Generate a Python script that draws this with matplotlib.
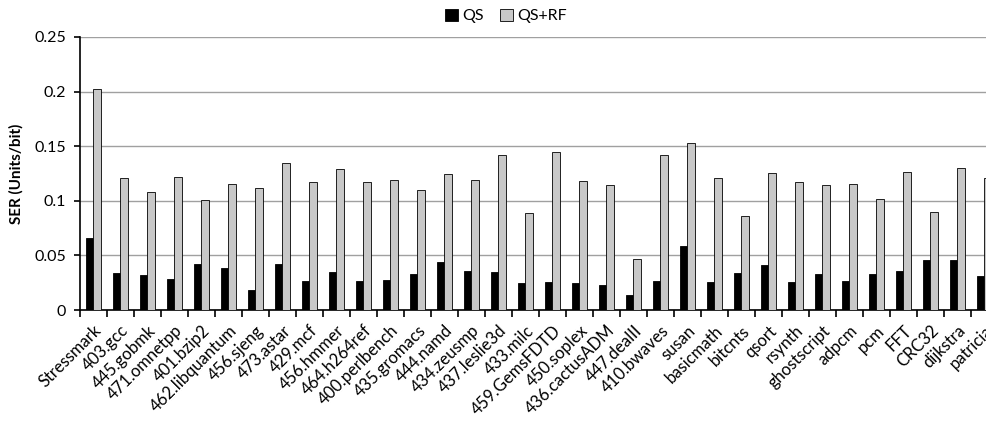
import matplotlib
matplotlib.use("Agg")
import matplotlib.pyplot as plt
import numpy as np

plt.rcParams['font.family'] = ['Lato', 'DejaVu Sans']

# ベンチマーク名
benchmarks = ['Stressmark', '403.gcc', '445.gobmk', '471.omnetpp', '401.bzip2',
              '462.libquantum', '456.sjeng', '473.astar', '429.mcf', '456.hmmer',
              '464.h264ref', '400.perlbench', '435.gromacs', '444.namd', '434.zeusmp',
              '437.leslie3d', '433.milc', '459.GemsFDTD', '450.soplex', '436.cactusADM',
              '447.dealII', '410.bwaves', 'susan', 'basicmath', 'bitcnts', 'qsort',
              'rsynth', 'ghostscript', 'adpcm', 'pcm', 'FFT', 'CRC32', 'dijkstra',
              'patricia']

# SER 値
qs = [0.0656, 0.0342, 0.0317, 0.0281, 0.0424, 0.0388, 0.0186, 0.0424, 0.0266, 0.0345,
      0.0263, 0.0278, 0.0333, 0.0440, 0.0354, 0.0348, 0.0247, 0.0256, 0.0247, 0.0229,
      0.0140, 0.0269, 0.0589, 0.0259, 0.0339, 0.0415, 0.0256, 0.0327, 0.0263, 0.0333,
      0.0357, 0.0458, 0.0455, 0.0314]
qs_rf = [0.2020, 0.1209, 0.1078, 0.1218, 0.1007, 0.1151, 0.1114, 0.1343, 0.1172, 0.1294,
         0.1175, 0.1187, 0.1102, 0.1248, 0.1190, 0.1422, 0.0885, 0.1444, 0.1178, 0.1148,
         0.0464, 0.1416, 0.1526, 0.1206, 0.0864, 0.1252, 0.1172, 0.1148, 0.1157, 0.1016,
         0.1267, 0.0900, 0.1303, 0.1212]

fig = plt.figure(figsize=(9.87, 4.23), dpi=100)
ax = fig.add_axes([80 / 987, 1 - 310 / 423, 918 / 987, 273 / 423])

x = np.arange(len(benchmarks))
w = 0.296
ax.bar(x - w / 2, qs, w, color='black', edgecolor='black', linewidth=0.6, label='QS', zorder=3)
ax.bar(x + w / 2, qs_rf, w, color='#c8c8c8', edgecolor='black', linewidth=0.6, label='QS+RF', zorder=3)

ax.set_xlim(-0.5, len(benchmarks) - 0.5)
ax.set_ylim(0, 0.25)
ax.set_yticks([0, 0.05, 0.1, 0.15, 0.2, 0.25])
ax.set_yticklabels(['0', '0.05', '0.1', '0.15', '0.2', '0.25'], fontsize=11.5)
ax.yaxis.grid(True, color='#a0a0a0', linewidth=1.0, zorder=0)
ax.set_axisbelow(True)

# 目盛り：グループ境界に主目盛り、ラベルは中央
ax.set_xticks(np.arange(len(benchmarks) + 1) - 0.5)
ax.set_xticklabels([])
ax.set_xticks(x, minor=True)
ax.set_xticklabels(benchmarks, minor=True, rotation=45, ha='right', va='top',
                   rotation_mode='anchor', fontsize=12)
ax.tick_params(axis='x', which='minor', length=0, pad=9)
ax.tick_params(axis='x', which='major', length=5, width=1.2, direction='out')
ax.tick_params(axis='y', length=4, width=1.2, direction='out', pad=6)

for s in ['top', 'right']:
    ax.spines[s].set_visible(False)
ax.spines['left'].set_linewidth(1.2)
ax.spines['bottom'].set_linewidth(1.2)

ax.set_ylabel('SER (Units/bit)', fontsize=11, fontweight='bold', labelpad=8)

fig.legend(loc='center', bbox_to_anchor=(506 / 987, 1 - 16 / 423), ncol=2, frameon=False,
           fontsize=11.5, handlelength=0.8, handleheight=0.8, handletextpad=0.3,
           columnspacing=1.0)

fig.savefig('out.png', dpi=100)
